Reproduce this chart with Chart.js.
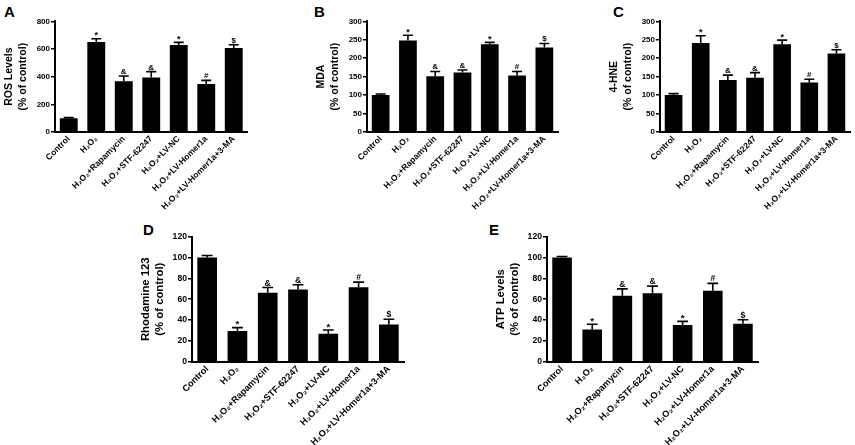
<!DOCTYPE html>
<html>
<head>
<meta charset="utf-8">
<script src="https://cdn.jsdelivr.net/npm/chart.js@4.4.1/dist/chart.umd.min.js"></script>
<style>
  html, body { margin: 0; padding: 0; background: #fff; }
  body { width: 855px; height: 445px; position: relative; overflow: hidden; font-family: "Liberation Sans", Arial, sans-serif; }
  .box { position: absolute; }
  .letter { position: absolute; font-weight: bold; font-size: 15px; line-height: 15px; color: #000; }
</style>
</head>
<body>
<div class="letter" style="left:4px;top:4px;">A</div>
<div class="letter" style="left:314px;top:4px;">B</div>
<div class="letter" style="left:613px;top:4px;">C</div>
<div class="letter" style="left:143px;top:222px;">D</div>
<div class="letter" style="left:489px;top:222px;">E</div>

<div class="box" id="wA"><canvas id="cA"></canvas></div>
<div class="box" id="wB"><canvas id="cB"></canvas></div>
<div class="box" id="wC"><canvas id="cC"></canvas></div>
<div class="box" id="wD"><canvas id="cD"></canvas></div>
<div class="box" id="wE"><canvas id="cE"></canvas></div>

<script>
// ---------- data ----------
const categories = ['Control', 'H\u2082O\u2082', 'H\u2082O\u2082+Rapamycin', 'H\u2082O\u2082+STF-62247',
  'H\u2082O\u2082+LV-NC', 'H\u2082O\u2082+LV-Homer1a', 'H\u2082O\u2082+LV-Homer1a+3-MA'];
const markers = ['', '*', '&', '&', '*', '#', '$'];

const rosValues = [100, 650, 366, 393, 629, 347, 607];
const rosErrors = [4, 24, 39, 43, 19, 26, 24];
const mdaValues = [100, 248, 151, 161, 238, 153, 229];
const mdaErrors = [3, 14, 13, 7, 5, 11, 11];
const hneValues = [100, 241, 141, 147, 238, 134, 213];
const hneErrors = [4, 20, 13, 14, 11, 9, 10];
const rhoValues = [100, 29.4, 66.2, 69.4, 26.9, 71.4, 35.8];
const rhoErrors = [2, 3.3, 5, 4.5, 3.5, 5, 5];
const atpValues = [100, 31, 63.4, 65.6, 35.2, 68.2, 36.5];
const atpErrors = [1, 5, 6.5, 7, 3.5, 7, 3.8];

const titleA = ['ROS Levels', '(% of control)'];
const titleB = ['MDA', '(% of control)'];
const titleC = ['4-HNE', '(% of control)'];
const titleD = ['Rhodamine 123', '(% of control)'];
const titleE = ['ATP Levels', '(% of control)'];

const axisMaxA = 800, axisStepA = 200;
const axisMaxB = 300, axisStepB = 50;
const axisMaxC = 300, axisStepC = 50;
const axisMaxD = 120, axisStepD = 20;
const axisMaxE = 120, axisStepE = 20;

// ---------- drawing ----------
const FONT = '"Liberation Sans", Arial, Helvetica, sans-serif';

const errorPlugin = {
  id: 'errbars',
  afterDatasetsDraw(chart) {
    const ctx = chart.ctx;
    const ds = chart.data.datasets[0];
    const meta = chart.getDatasetMeta(0);
    const ys = chart.scales.y;
    const k = ds.fontScale || 1;
    ctx.save();
    ctx.strokeStyle = '#000';
    ctx.fillStyle = '#000';
    ctx.lineWidth = 1.6;
    meta.data.forEach((bar, i) => {
      const v = ds.data[i], e = ds.errors[i];
      const x = bar.x;
      const y0 = ys.getPixelForValue(v);
      const y1 = ys.getPixelForValue(v + e);
      const cw = 5 * k;
      ctx.beginPath();
      ctx.moveTo(x, y0);
      ctx.lineTo(x, y1);
      ctx.moveTo(x - cw, y1);
      ctx.lineTo(x + cw, y1);
      ctx.stroke();
      const m = ds.markers[i];
      if (m) {
        ctx.font = 'bold ' + ((m === '*' ? 9 : 8) * k) + 'px ' + FONT;
        ctx.textAlign = 'center';
        ctx.textBaseline = 'alphabetic';
        ctx.fillText(m, x, m === '*' ? y1 - 0.5 : y1 - 2);
      }
    });
    ctx.restore();
  }
};

function makePanel(id, box, values, errors, title, axisMax, axisStep) {
  const wrap = document.getElementById('w' + id);
  const k = box.fontScale;
  const yWidth = 55;
  const left = box.axisX - yWidth;
  const width = Math.round(box.plotRight - left + 8);
  const height = box.height;
  wrap.style.left = left + 'px';
  wrap.style.top = box.top + 'px';
  wrap.style.width = width + 'px';
  wrap.style.height = height + 'px';
  const padTop = box.plotTop - box.top;
  const xHeight = box.top + height - box.plotBottom;

  new Chart(document.getElementById('c' + id), {
    type: 'bar',
    data: {
      labels: categories,
      datasets: [{
        data: values,
        errors: errors,
        markers: markers,
        fontScale: k,
        backgroundColor: '#000',
        borderWidth: 0,
        barPercentage: 0.65,
        categoryPercentage: 1.0
      }]
    },
    options: {
      responsive: true,
      maintainAspectRatio: false,
      animation: false,
      devicePixelRatio: 1,
      layout: { padding: { top: padTop, right: width - (box.plotRight - left), left: 0, bottom: 0 } },
      plugins: { legend: { display: false }, tooltip: { enabled: false } },
      scales: {
        x: {
          afterFit: (s) => { s.height = xHeight; },
          grid: { display: false, drawTicks: false },
          border: { display: true, color: '#000', width: 2 },
          ticks: {
            color: '#000',
            font: { family: FONT, size: 8.5 * k, weight: 'bold' },
            minRotation: 45, maxRotation: 45,
            autoSkip: false,
            padding: 2
          }
        },
        y: {
          min: 0, max: axisMax,
          afterFit: (s) => { s.width = yWidth; },
          grid: { display: true, drawOnChartArea: false, drawTicks: true, tickLength: 4, color: '#000', lineWidth: 1.5 },
          border: { display: true, color: '#000', width: 2 },
          ticks: {
            stepSize: axisStep,
            color: '#000',
            font: { family: FONT, size: 8 * k, weight: 'bold' },
            padding: 1
          },
          title: {
            display: true,
            text: title,
            color: '#000',
            font: { family: FONT, size: 10.5 * k, weight: 'bold', lineHeight: 1.25 },
            padding: { top: 3 - (k - 1) * 20, bottom: 0 }
          }
        }
      }
    },
    plugins: [errorPlugin]
  });
}

makePanel('A', { axisX: 55, plotRight: 247.5, top: 0, height: 215, plotTop: 21.3, plotBottom: 132, fontScale: 1 },
  rosValues, rosErrors, titleA, axisMaxA, axisStepA);
makePanel('B', { axisX: 367, plotRight: 558, top: 0, height: 215, plotTop: 21.3, plotBottom: 132, fontScale: 1 },
  mdaValues, mdaErrors, titleB, axisMaxB, axisStepB);
makePanel('C', { axisX: 660, plotRight: 850, top: 0, height: 215, plotTop: 21.3, plotBottom: 132, fontScale: 1 },
  hneValues, hneErrors, titleC, axisMaxC, axisStepC);
makePanel('D', { axisX: 192, plotRight: 404, top: 215, height: 230, plotTop: 236.7, plotBottom: 361.7, fontScale: 1.08 },
  rhoValues, rhoErrors, titleD, axisMaxD, axisStepD);
makePanel('E', { axisX: 547, plotRight: 758, top: 215, height: 230, plotTop: 236.7, plotBottom: 361.7, fontScale: 1.08 },
  atpValues, atpErrors, titleE, axisMaxE, axisStepE);
</script>
</body>
</html>
